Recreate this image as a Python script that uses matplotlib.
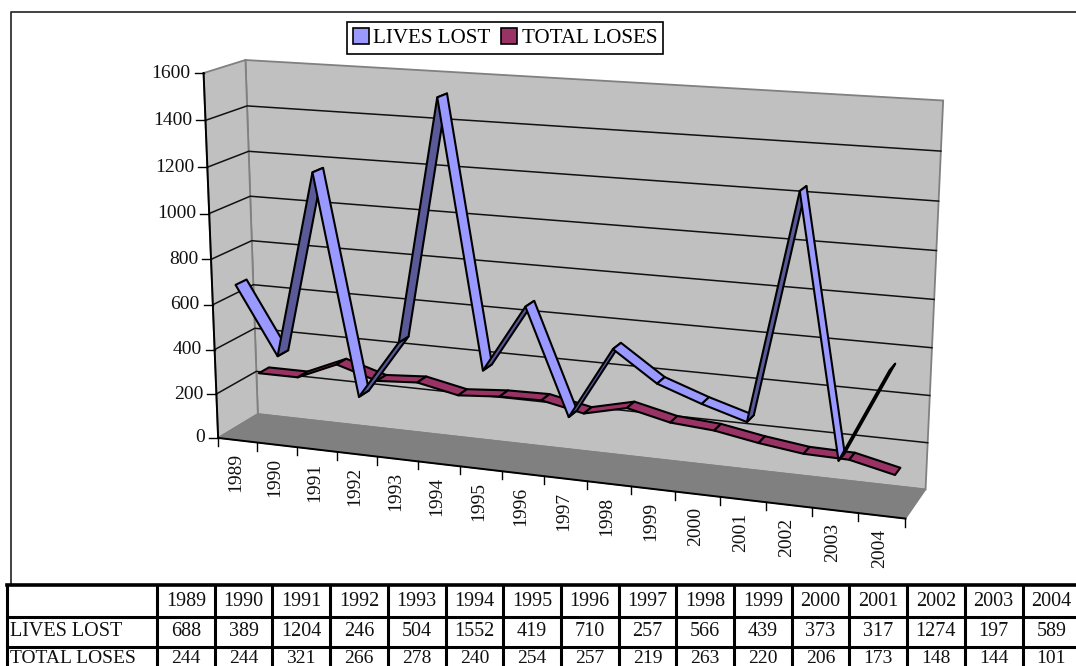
import numpy as np
import matplotlib
matplotlib.use("Agg")
import matplotlib.pyplot as plt
from matplotlib.patches import Polygon, Patch

years = [1989, 1990, 1991, 1992, 1993, 1994, 1995, 1996, 1997, 1998, 1999, 2000, 2001, 2002, 2003, 2004]
lives_lost = [688, 389, 1204, 246, 504, 1552, 419, 710, 257, 566, 439, 373, 317, 1274, 197, 589]
total_loses = [244, 244, 321, 266, 278, 240, 254, 257, 219, 263, 220, 206, 173, 148, 144, 101]
value_ticks = [0, 200, 400, 600, 800, 1000, 1200, 1400, 1600]

plt.rcParams['font.family'] = ['Liberation Serif', 'DejaVu Serif']
W, H = 1076, 666
fig = plt.figure(figsize=(W / 100, H / 100), dpi=100)
ax = fig.add_axes([0, 0, 1, 1])
ax.set_xlim(0, W)
ax.set_ylim(H, 0)
ax.axis('off')

# Camera of the pseudo-3D box: unit-cube corners -> picture position
cal = [((0, 0, 0), (218, 438)), ((0, 1, 0), (204, 73)), ((0, 0, 1), (258, 414)), ((0, 1, 1), (245, 60)),
       ((1, 0, 0), (905, 519)), ((1, 1, 0), (923, 116)), ((1, 0, 1), (926, 489)), ((1, 1, 1), (943, 101))]
A = []
for (X, Y, Z), (u, v) in cal:
    A.append([X, Y, Z, 1, 0, 0, 0, 0, -u * X, -u * Y, -u * Z, -u])
    A.append([0, 0, 0, 0, X, Y, Z, 1, -v * X, -v * Y, -v * Z, -v])
CAM = np.linalg.svd(np.array(A, float))[2][-1].reshape(3, 4)


def proj(cat, val, depth):
    """cat in category units, val in data units, depth 0 (front) .. 1 (back)."""
    p = CAM @ np.array([cat / len(years), val / value_ticks[-1], depth, 1.0])
    return p[0] / p[2], p[1] / p[2]


n = len(years)
top = value_ticks[-1]
GRID = '#111111'
EDGE = '#808080'

# walls and floor
ax.add_patch(Polygon([proj(0, 0, 1), proj(0, top, 1), proj(n, top, 1), proj(n, 0, 1)], fc='#C0C0C0', ec=EDGE, lw=1.3, zorder=1))
ax.add_patch(Polygon([proj(0, 0, 0), proj(0, top, 0), proj(0, top, 1), proj(0, 0, 1)], fc='#C0C0C0', ec=EDGE, lw=1.3, zorder=1))
ax.add_patch(Polygon([proj(0, 0, 0), proj(0, 0, 1), proj(n, 0, 1), proj(n, 0, 0)], fc='#808080', ec=EDGE, lw=1.0, zorder=1.5))

# gridlines on both walls
for v in value_ticks[1:-1]:
    pts = [proj(0, v, 0), proj(0, v, 1), proj(n, v, 1)]
    ax.plot(*zip(*pts), color=GRID, lw=1.1, zorder=2)

# front axes
ax.plot(*zip(proj(0, 0, 0), proj(0, top, 0)), color='black', lw=1.4, zorder=3)
ax.plot(*zip(proj(0, 0, 0), proj(n, 0, 0)), color='black', lw=1.4, zorder=3)
for v in value_ticks:
    x, y = proj(0, v, 0)
    ax.plot([x - 9, x], [y, y], color='black', lw=1.0, zorder=3)
    ax.text(x - 13, y, str(v), ha='right', va='center', fontsize=14, color='#111111')
for i in range(n + 1):
    x, y = proj(i, 0, 0)
    ax.plot([x, x], [y, y + 8], color='black', lw=1.0, zorder=3)
for i, yr in enumerate(years):
    x, y = proj(i + 0.5, 0, 0)
    ax.text(x - 2, y + 13, str(yr), rotation=90, ha='center', va='top', fontsize=14, color='#111111')


def ribbon(values, d0, d1, light, dark, z):
    for i in range(len(values) - 1):
        a = proj(i + 0.5, values[i], d0)
        b = proj(i + 1.5, values[i + 1], d0)
        c = proj(i + 1.5, values[i + 1], d1)
        e = proj(i + 0.5, values[i], d1)
        q = np.array([a, b, c, e])
        area = 0.5 * np.sum(q[:, 0] * np.roll(q[:, 1], -1) - np.roll(q[:, 0], -1) * q[:, 1])
        ax.add_patch(Polygon(q, closed=True, fc=light if area < 0 else dark, ec='black', lw=1.5,
                             joinstyle='round', zorder=z + i * 0.01))


ribbon(total_loses, 0.58, 0.84, '#993366', '#4D1A33', 4)
ribbon(lives_lost, 0.09, 0.36, '#9999FF', '#5A5A99', 5)

# legend
leg = ax.legend(handles=[Patch(fc='#9999FF', ec='black', lw=1.2, label='LIVES LOST'),
                         Patch(fc='#993366', ec='black', lw=1.2, label='TOTAL LOSES')],
                loc='center', bbox_to_anchor=(505, 38), bbox_transform=ax.transData, ncol=2,
                fontsize=15.1, fancybox=False, framealpha=1, edgecolor='black',
                handlelength=0.78, handleheight=0.78, handletextpad=0.2, columnspacing=0.5,
                borderpad=0.3, borderaxespad=0)
leg.get_frame().set_linewidth(1.2)
leg.set_zorder(8)

# chart frame
ax.plot([W, 11, 11], [12, 12, 584], color='#333333', lw=1.3, zorder=0.5)

# data table under the chart
col_edges = [7] + [157 + 57.7 * i for i in range(n + 1)]
row_edges = [587, 616.5, 647, H + 10]
ax.plot([7, W], [585, 585], color='black', lw=2.6, zorder=6)
for y in row_edges[1:3]:
    ax.plot([7, W], [y, y], color='black', lw=2.2, zorder=6)
for x in col_edges:
    ax.plot([x, x], [585, H], color='black', lw=2.2, zorder=6)
row_mid = [602, 631.5, 658.2]
for i, yr in enumerate(years):
    cx = (col_edges[i + 1] + col_edges[i + 2]) / 2
    ax.text(cx, row_mid[0], str(yr), ha='center', va='center', fontsize=14.5, color='#111111')
    ax.text(cx, row_mid[1], str(lives_lost[i]), ha='center', va='center', fontsize=14.5, color='#111111')
    ax.text(cx, row_mid[2], str(total_loses[i]), ha='center', va='center', fontsize=14, color='#111111')
ax.text(10, row_mid[1], 'LIVES LOST', ha='left', va='center', fontsize=14.5, color='#111111')
ax.text(10, row_mid[2], 'TOTAL LOSES', ha='left', va='center', fontsize=14, color='#111111')

fig.savefig('out.png', dpi=100)
